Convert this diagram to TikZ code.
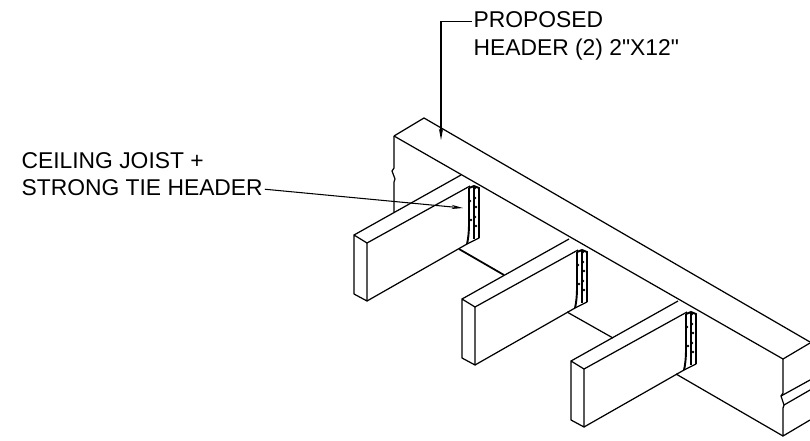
\documentclass[tikz,border=0pt]{standalone}
\usepackage{fontspec}
\setmainfont{Liberation Sans}[Ligatures=TeXOff]
\usetikzlibrary{arrows.meta}

\tikzset{woodLine/.style={line width=0.7pt,line join=round},
	strapLine/.style={line width=1.1pt},
	leaderLine/.style={line width=0.6pt,-{Stealth[length=6.6pt,width=2.4pt]}},
	noteText/.style={inner sep=1pt,anchor=base west,text depth=2.5pt,font=\fontsize{13pt}{15pt}\selectfont}}

\begin{document}
\begin{tikzpicture}[x=0.02cm,y=-0.02cm]
		\useasboundingbox (0,0) rectangle (810,440);
		\newcommand{\joist}[2]{%
		\begin{scope}[shift={(#1,#2)}]
			\draw[woodLine] (-13,-8) -- (0,0) -- (0,58) -- (-13,51) -- cycle;	% end grain
			\draw[woodLine] (-13,-8) -- (94,-68);
			\draw[woodLine] (0,0) -- (103,-57);
			\draw[woodLine] (0,58) -- (100,1);
			% hanger
			\draw[strapLine] (102,-55) -- (102,-20) .. controls (102,-10) and (101,-3) .. (100,1);
			\draw[woodLine] (100,1) -- (112,-5);
			\draw[strapLine] (112,-5) -- (112,-55) -- (107,-57) -- (102,-55);
			\draw[woodLine] (107,-57) -- (107,-4);
			\fill (108,-55) circle (1.3) (108,-45) circle (1.3) (109,-36) circle (1.3) (108,-26) circle (1.3)
				(109,-17) circle (1.3) (103,-42) circle (1.3) (104,-23) circle (1.3);
		\end{scope}}
		
		% header
		\draw[woodLine] (394,136) -- (424,118) -- (810,342);
		\draw[woodLine] (394,136) -- (783,359) -- (810,343);
		\draw[woodLine] (394,136) -- (394,168) -- (392,171) -- (395,179) -- (394,182) -- (394,212);	% left end
		\draw[woodLine] (783,359) -- (783,393) -- (781,396) -- (784,405) -- (783,408) -- (783,436) -- (810,420);	% right end
		\draw[woodLine] (781,396) -- (810,380);
		\draw[woodLine] (784,405) -- (810,390);
		
		% joists
		\joist{367}{243}
		\joist{475}{307}
		\joist{584}{369}
		
		% lines between joists
		\draw[woodLine,line width=1pt] (459,249) -- (504,275);
		\draw[woodLine] (567,312) -- (613,338);
		\draw[woodLine] (676,374) -- (783,436);
		
		% labels
		\node[noteText] (proposedLine) at (471.5,27) {PROPOSED};
		\node[noteText] (headerLine) at (471.5,55) {HEADER (2) 2"X12"};
		\node[noteText] (ceilingLine) at (19.5,168) {CEILING JOIST +};
		\node[noteText] (strongLine) at (19.5,195) {STRONG TIE HEADER};
		\coordinate (headerTip) at (441,140);
		\coordinate (hangerTip) at (463,208);
		\draw[leaderLine] (proposedLine.west) -| (headerTip);
		\draw[leaderLine] (strongLine.east) -- (hangerTip);
\end{tikzpicture}
\end{document}
